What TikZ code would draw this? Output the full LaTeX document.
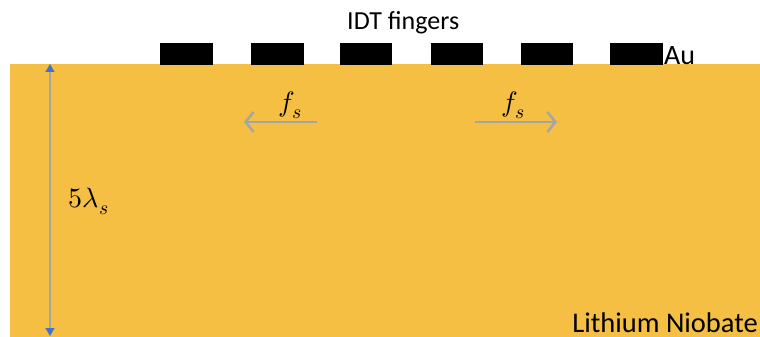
\documentclass[tikz,border=0pt]{standalone}
\usepackage{fontspec}
\usepackage{unicode-math}
\setmainfont{Carlito}
\setmathfont{Latin Modern Math}
\usetikzlibrary{arrows.meta}
\definecolor{lngold}{RGB}{244,191,66}
\definecolor{fgray}{RGB}{165,165,165}
\definecolor{tipblue}{RGB}{68,114,196}
\begin{document}
\begin{tikzpicture}[x=1pt,y=-1pt,
  finger/.style={fill=black,draw=none},
  lbl/.style={inner sep=0pt,text=black},
  mth/.style={inner sep=0pt,text=black,font=\fontsize{28}{32}\selectfont},
  wave/.style={draw=fgray,line width=2.5pt,-{Straight Barb[length=8pt,width=20pt,line width=2.5pt]}},
  depth/.style={draw=fgray,line width=1.5pt,{Triangle[length=8pt,width=9pt,color=tipblue]}-{Triangle[length=8pt,width=9pt,color=tipblue]}}]
\useasboundingbox (0,0) rectangle (760,337);
% substrate
\fill[lngold] (10,64) rectangle (760,337);
% IDT fingers
\fill[finger] (160,43) rectangle (213,65);
\fill[finger] (251,43) rectangle (304,65);
\fill[finger] (340,43) rectangle (392,65);
\fill[finger] (431,43) rectangle (483,65);
\fill[finger] (521,43) rectangle (573,65);
\fill[finger] (610,43) rectangle (663,65);
% labels
\node[lbl,anchor=base west] (idt) at (347,29.5) {\fontsize{26}{30}\selectfont IDT fingers};
\node[lbl,anchor=base west] (au) at (664,65) {\fontsize{28}{32}\selectfont Au};
\node[lbl,anchor=base east] (ln) at (758,332) {\fontsize{28.5}{34}\selectfont Lithium Niobate};
% waves
\coordinate (l1) at (317,122);
\coordinate (l2) at (244,122);
\coordinate (r1) at (475,122);
\coordinate (r2) at (557,122);
\draw[wave] (l1) -- (l2);
\draw[wave] (r1) -- (r2);
\node[mth] (fl) at (290,105) {$f_s$};
\node[mth] (fr) at (513,105) {$f_s$};
% depth
\coordinate (dtop) at (50,64);
\coordinate (dbot) at (50,336);
\draw[depth] (dtop) -- (dbot);
\node[mth] (lam) at (89,201) {$5\lambda_s$};
\end{tikzpicture}
\end{document}
